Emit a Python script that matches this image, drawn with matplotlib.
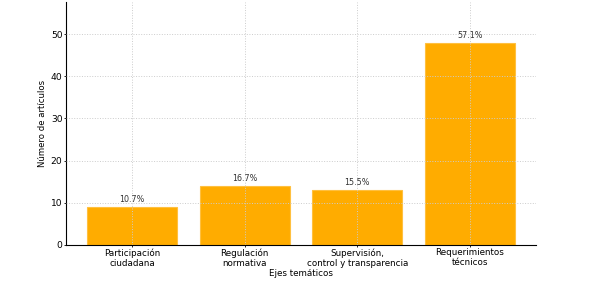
import matplotlib
matplotlib.use("Agg")
import matplotlib.pyplot as plt

categories = ["Participación\nciudadana", "Regulación\nnormativa",
              "Supervisión,\ncontrol y transparencia", "Requerimientos\ntécnicos"]
counts = [9, 14, 13, 48]
pct_labels = ["10.7%", "16.7%", "15.5%", "57.1%"]

fig = plt.figure(figsize=(6.02, 2.83), dpi=100)
ax = fig.add_axes([66/602, 1-245/283, 470/602, 243/283])

x = list(range(len(categories)))
bars = ax.bar(x, counts, width=0.8, color="#FFAC00", edgecolor="#FFC040", linewidth=0.8)
ax.set_ylim(0, max(counts) * 1.2)
ax.set_xticks(x)
ax.set_xticklabels(categories, fontsize=6.3, linespacing=1.1)
ax.tick_params(axis="y", labelsize=6.6, length=1.5, width=0.6, pad=1)
ax.tick_params(axis="x", length=1.5, width=0.6, pad=1)
ax.set_yticks([0, 10, 20, 30, 40, 50])
ax.set_ylabel("Número de artículos", fontsize=6.1, labelpad=3)
ax.set_xlabel("Ejes temáticos", fontsize=6.3, labelpad=1)

for xi, c, lab in zip(x, counts, pct_labels):
    ax.text(xi, c + 0.7, lab, ha="center", va="bottom", fontsize=5.8, color="#333333")

ax.grid(True, linestyle=":", color="#cccccc", linewidth=0.7)
ax.set_axisbelow(False)
for s in ["top", "right"]:
    ax.spines[s].set_visible(False)
ax.spines["left"].set_linewidth(0.8)
ax.spines["bottom"].set_linewidth(0.8)

fig.savefig("out.png", dpi=100)
